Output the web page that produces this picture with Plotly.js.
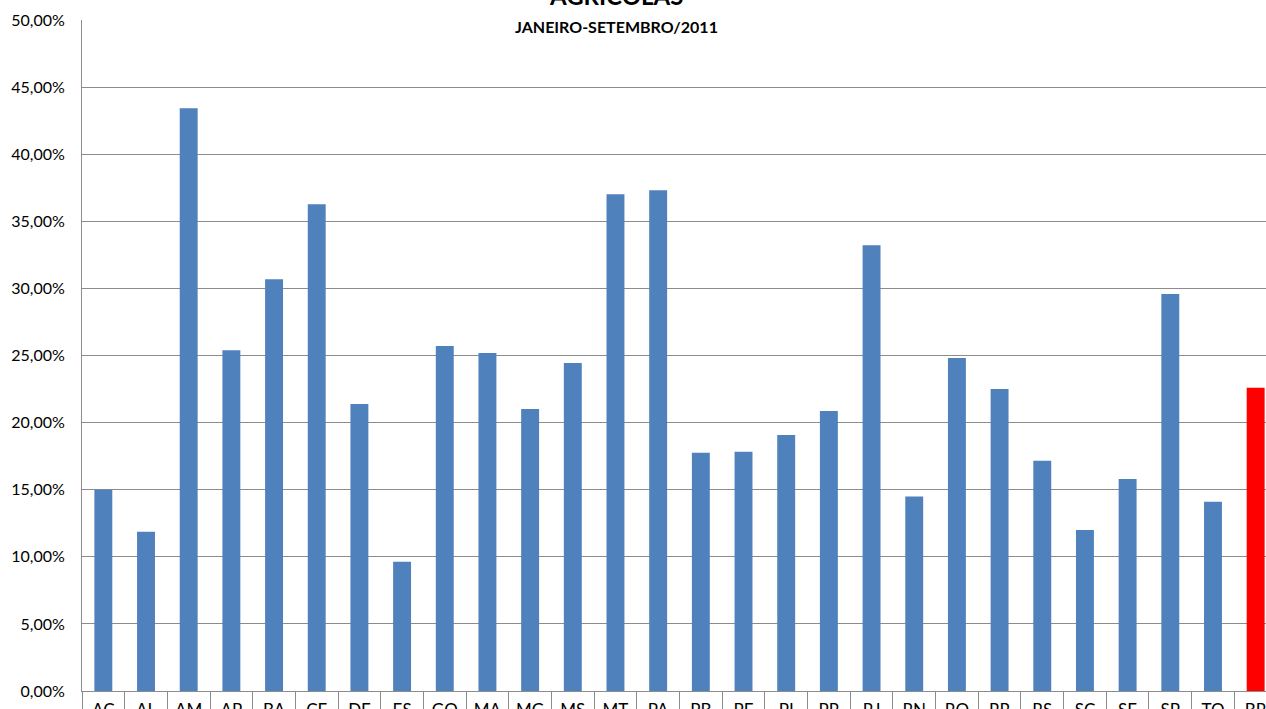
<!DOCTYPE html>
<html>
<head>
<meta charset="utf-8">
<script src="https://cdn.plot.ly/plotly-3.0.1.min.js"></script>
<style>
html,body{margin:0;padding:0;overflow:hidden;background:#fff;width:1266px;height:709px;}
#chart{width:1297px;height:760px;}
</style>
</head>
<body>
<div id="chart"></div>
<script>
const categories = ["AC","AL","AM","AP","BA","CE","DF","ES","GO","MA","MG","MS","MT","PA","PB","PE","PI","PR","RJ","RN","RO","RR","RS","SC","SE","SP","TO","BR"];
const values = [0.1499,0.1187,0.4342,0.2540,0.3069,0.3627,0.2139,0.0964,0.2571,0.2519,0.2102,0.2445,0.3702,0.3731,0.1775,0.1782,0.1908,0.2087,0.3322,0.1450,0.2482,0.2250,0.1715,0.1200,0.1580,0.2958,0.1410,0.2260];
const highlight = "BR";
const titleText = "AGRÍCOLAS";
const subtitleText = "JANEIRO-SETEMBRO/2011";

const colors = categories.map(c => c === highlight ? "#FF0000" : "#4F81BD");

const trace = {
  type: "bar",
  x: categories,
  y: values,
  marker: {color: colors, line: {width: 0}},
  width: 0.42,
  hoverinfo: "x+y"
};

const gridCol = "#8C8C8C";
const layout = {
  width: 1297,
  height: 760,
  margin: {l: 82, r: 20, t: 19.5, b: 68.5},
  paper_bgcolor: "#fff",
  plot_bgcolor: "#fff",
  separators: ",.",
  showlegend: false,
  font: {family: "Lato, 'Open Sans', sans-serif", color: "#000"},
  xaxis: {
    type: "category",
    tickson: "boundaries",
    ticks: "outside",
    ticklen: 22,
    tickcolor: gridCol,
    tickwidth: 1,
    showline: true,
    linecolor: gridCol,
    linewidth: 1,
    showgrid: false,
    tickfont: {size: 17, family: "Lato, sans-serif", color: "#000"},
    ticklabelstandoff: 4,
    range: [-0.5, 27.5],
    fixedrange: true
  },
  yaxis: {
    range: [0, 0.5],
    tick0: 0,
    dtick: 0.05,
    tickformat: ".2%",
    showgrid: true,
    gridcolor: gridCol,
    gridwidth: 1,
    zeroline: false,
    showline: true,
    linecolor: gridCol,
    linewidth: 1,
    ticks: "",
    ticklabelstandoff: 13,
    tickfont: {size: 16, family: "Lato, sans-serif", color: "#000"},
    fixedrange: true
  },
  annotations: [
    {
      text: "<b>" + titleText + "</b>",
      xref: "paper", yref: "paper",
      x: 0.447, y: 1.0115,
      xanchor: "center", yanchor: "bottom",
      showarrow: false,
      font: {size: 24, family: "Lato, sans-serif", color: "#000"}
    },
    {
      text: "<b>" + subtitleText + "</b>",
      xref: "paper", yref: "paper",
      x: 0.447, y: 1.0075,
      xanchor: "center", yanchor: "top",
      showarrow: false,
      font: {size: 16, family: "Lato, sans-serif", color: "#000"}
    }
  ]
};

Plotly.newPlot("chart", [trace], layout, {displayModeBar: false, staticPlot: true});
</script>
</body>
</html>
